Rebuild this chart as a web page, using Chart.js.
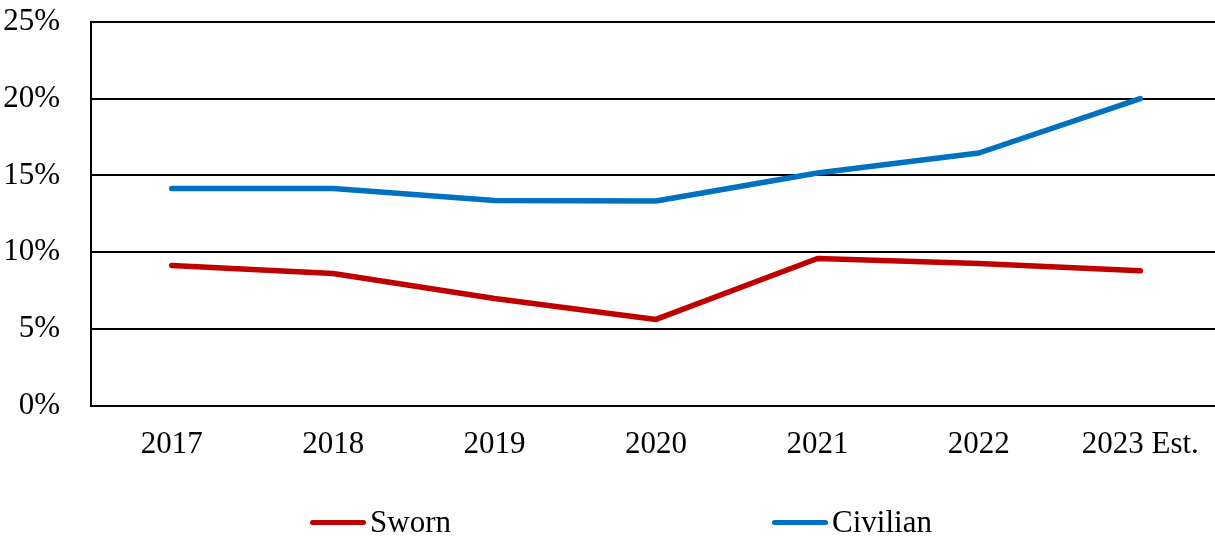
<!DOCTYPE html>
<html><head><meta charset="utf-8">
<script src="https://cdn.jsdelivr.net/npm/chart.js@4.4.0/dist/chart.umd.min.js"></script>
<style>
html,body{margin:0;padding:0;background:#fff;overflow:hidden;width:1215px;height:537px;position:relative;}
#wrap{position:absolute;left:0;top:0;width:1230px;height:537px;}
#legend{position:absolute;top:505px;left:0;width:1215px;height:34px;font-family:'Liberation Serif',serif;font-size:31px;color:#000;}
.item{position:absolute;top:0;display:flex;align-items:center;height:34px;line-height:34px;}
.sw{width:56px;height:5px;border-radius:3px;margin-right:4px;}
</style></head><body>
<div id="wrap"><canvas id="c" width="1230" height="537"></canvas></div>
<div id="legend"></div>
<script>
const categories = ['2017', '2018', '2019', '2020', '2021', '2022', '2023 Est.'];
const sworn = [9.13, 8.61, 6.98, 5.61, 9.58, 9.26, 8.78];
const civilian = [14.14, 14.14, 13.36, 13.33, 15.16, 16.46, 20.0];
const yTicks = [0, 5, 10, 15, 20, 25];
const seriesNames = ['Sworn', 'Civilian'];
const seriesColors = ['#C00000', '#0070C0'];
const legendLeft = [310, 772];

const font = {family: "'Liberation Serif', serif", size: 31};
const chart = new Chart(document.getElementById('c'), {
  type: 'line',
  data: {
    labels: categories,
    datasets: [
      {label: seriesNames[0], data: sworn, borderColor: seriesColors[0], backgroundColor: seriesColors[0]},
      {label: seriesNames[1], data: civilian, borderColor: seriesColors[1], backgroundColor: seriesColors[1]}
    ]
  },
  options: {
    responsive: false,
    animation: false,
    layout: {padding: {left: 0, top: 22, right: 9, bottom: 71.5}},
    elements: {
      line: {borderWidth: 5.5, tension: 0, borderCapStyle: 'round', borderJoinStyle: 'round'},
      point: {radius: 0, hoverRadius: 0}
    },
    plugins: {legend: {display: false}, tooltip: {enabled: false}},
    scales: {
      x: {
        type: 'category',
        offset: true,
        grid: {display: false, drawTicks: false},
        border: {display: true, color: '#000', width: 2},
        ticks: {font: font, color: '#000', padding: 21, maxRotation: 0, autoSkip: false},
        afterFit: (s) => { s.height = 60; s.paddingLeft = 0; s.paddingRight = 0; }
      },
      y: {
        min: 0, max: 25,
        afterBuildTicks: (s) => { s.ticks = yTicks.map(v => ({value: v})); },
        grid: {color: '#000', lineWidth: 2, drawTicks: false},
        border: {display: true, color: '#000', width: 2},
        ticks: {font: font, color: '#000', padding: 31, callback: (v) => v + '%'},
        afterFit: (s) => { s.width = 91; s.paddingTop = 0; s.paddingBottom = 0; }
      }
    }
  }
});

const lg = document.getElementById('legend');
chart.data.datasets.forEach((ds, i) => {
  const it = document.createElement('div');
  it.className = 'item';
  it.style.left = legendLeft[i] + 'px';
  const sw = document.createElement('span');
  sw.className = 'sw';
  sw.style.background = ds.borderColor;
  const tx = document.createElement('span');
  tx.textContent = ds.label;
  it.appendChild(sw); it.appendChild(tx);
  lg.appendChild(it);
});
</script>
</body></html>
